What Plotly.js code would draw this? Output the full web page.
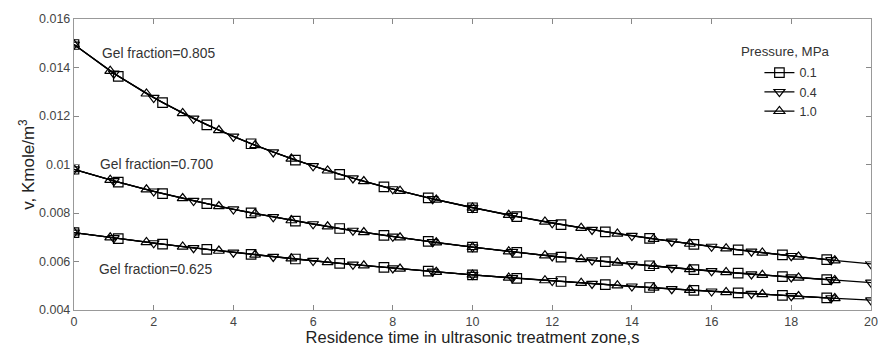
<!DOCTYPE html>
<html>
<head>
<meta charset="utf-8">
<script src="https://cdn.plot.ly/plotly-3.0.1.min.js"></script>
<style>html,body{margin:0;padding:0;background:#fff;}#chart{width:878px;height:346px;}</style>
</head>
<body>
<div id="chart"></div>
<script>
// Marker times (s) for each pressure series
var tP01 = [0,1.111,2.222,3.333,4.444,5.556,6.667,7.778,8.889,10,11.111,12.222,13.333,14.444,15.556,16.667,17.778,18.889];
var tP04 = [0,1,2,3,4,5,6,7,8,9,10,11,12,13,14,15,16,17,18,19,20];
var tP10 = [0,0.909,1.818,2.727,3.636,4.545,5.455,6.364,7.273,8.182,9.091,10,10.909,11.818,12.727,13.636,14.545,15.455,16.364,17.273,18.182,19.091];

// Gel fraction = 0.805
var g805_p01 = [0.014948,0.013636,0.012550,0.011636,0.010855,0.010182,0.009596,0.009080,0.008624,0.008217,0.007852,0.007523,0.007225,0.006954,0.006706,0.006479,0.006270,0.006078];
var g805_p04 = [0.014948,0.013756,0.012752,0.011894,0.011153,0.010507,0.009938,0.009434,0.008985,0.008581,0.008217,0.007887,0.007586,0.007311,0.007059,0.006827,0.006613,0.006415,0.006231,0.006059,0.005900];
var g805_p10 = [0.014948,0.013856,0.012923,0.012115,0.011411,0.010790,0.010240,0.009748,0.009307,0.008908,0.008546,0.008217,0.007915,0.007639,0.007384,0.007148,0.006930,0.006728,0.006539,0.006363,0.006198,0.006044];

// Gel fraction = 0.700
var g700_p01 = [0.009804,0.009273,0.008802,0.008383,0.008007,0.007668,0.007361,0.007081,0.006826,0.006592,0.006377,0.006178,0.005994,0.005824,0.005666,0.005518,0.005380,0.005252];
var g700_p04 = [0.009804,0.009323,0.008892,0.008504,0.008153,0.007833,0.007541,0.007274,0.007028,0.006802,0.006592,0.006397,0.006217,0.006048,0.005891,0.005743,0.005605,0.005476,0.005354,0.005239,0.005131];
var g700_p10 = [0.009804,0.009364,0.008967,0.008606,0.008276,0.007975,0.007697,0.007442,0.007205,0.006986,0.006782,0.006592,0.006415,0.006249,0.006093,0.005947,0.005809,0.005680,0.005557,0.005442,0.005333,0.005229];

// Gel fraction = 0.625
var g625_p01 = [0.007194,0.006945,0.006713,0.006496,0.006293,0.006103,0.005925,0.005757,0.005599,0.005450,0.005308,0.005175,0.005048,0.004927,0.004813,0.004703,0.004599,0.004500];
var g625_p04 = [0.007194,0.006969,0.006758,0.006559,0.006373,0.006197,0.006031,0.005874,0.005725,0.005584,0.005450,0.005322,0.005201,0.005085,0.004975,0.004869,0.004768,0.004672,0.004579,0.004490,0.004405];
var g625_p10 = [0.007194,0.006989,0.006795,0.006612,0.006439,0.006275,0.006120,0.005973,0.005832,0.005699,0.005571,0.005450,0.005333,0.005222,0.005116,0.005014,0.004916,0.004823,0.004733,0.004646,0.004563,0.004483];

var pressureNames = ['0.1','0.4','1.0'];
var gelLabels = ['Gel fraction=0.805','Gel fraction=0.700','Gel fraction=0.625'];
var xTicks = [0,2,4,6,8,10,12,14,16,18,20];
var yTicks = [0.004,0.006,0.008,0.01,0.012,0.014,0.016];
var yTickText = ['0.004','0.006','0.008','0.01','0.012','0.014','0.016'];

var symbols = ['square-open','triangle-down-open','triangle-up-open'];
var times = [tP01,tP04,tP10];
var groups = [[g805_p01,g805_p04,g805_p10],[g700_p01,g700_p04,g700_p10],[g625_p01,g625_p04,g625_p10]];

var traces = [];
groups.forEach(function(g, gi){
  g.forEach(function(vals, pi){
    traces.push({
      x: times[pi], y: vals, type:'scatter', mode:'lines+markers',
      name: pressureNames[pi], legendgroup: 'p'+pi, showlegend: gi===0,
      line:{color:'#000', width:1.3},
      marker:{symbol:symbols[pi], size:9.5, color:'#000', line:{color:'#000', width:1.2}}
    });
  });
});

var FF = 'Liberation Sans, Arial, sans-serif';
var axFont = {family:FF, size:12.5, color:'#444'};
var annFont = {family:FF, size:13.8, color:'#333'};
var layout = {
  width:878, height:346,
  margin:{l:74, r:7, t:19, b:36},
  paper_bgcolor:'#fff', plot_bgcolor:'#fff',
  showlegend:true,
  legend:{x:0.86, y:0.866, xanchor:'left', yanchor:'top', bgcolor:'rgba(0,0,0,0)',
          font:{family:FF, size:12.5, color:'#333'},
          itemwidth:30, tracegroupgap:0},
  xaxis:{range:[0,20], tickvals:xTicks, ticks:'inside', ticklen:5, tickcolor:'#888',
         showline:true, linecolor:'#999', linewidth:1.2, mirror:'ticks', showgrid:false, zeroline:false,
         tickfont:axFont,
         title:{text:'Residence time in ultrasonic treatment zone,s', font:{family:FF, size:16.5, color:'#222'}, standoff:4}},
  yaxis:{range:[0.004,0.016], tickvals:yTicks, ticktext:yTickText, ticks:'inside', ticklen:5, tickcolor:'#888',
         showline:true, linecolor:'#999', linewidth:1.2, mirror:'ticks', showgrid:false, zeroline:false,
         tickfont:axFont,
         title:{text:'v, Kmole/m<sup>3</sup>', font:{family:FF, size:17, color:'#222'}, standoff:0}},
  annotations:[
    {x:0.66, y:0.01456, xref:'x', yref:'y', text:gelLabels[0], showarrow:false, xanchor:'left', yanchor:'middle', font:annFont},
    {x:0.61, y:0.01001, xref:'x', yref:'y', text:gelLabels[1], showarrow:false, xanchor:'left', yanchor:'middle', font:annFont},
    {x:0.58, y:0.00568, xref:'x', yref:'y', text:gelLabels[2], showarrow:false, xanchor:'left', yanchor:'middle', font:annFont},
    {x:0.834, y:0.887, xref:'paper', yref:'paper', text:'Pressure, MPa', showarrow:false, xanchor:'left', yanchor:'middle', font:{family:FF, size:13.3, color:'#333'}}
  ]
};
Plotly.newPlot('chart', traces, layout, {displayModeBar:false, staticPlot:true});
</script>
</body>
</html>
